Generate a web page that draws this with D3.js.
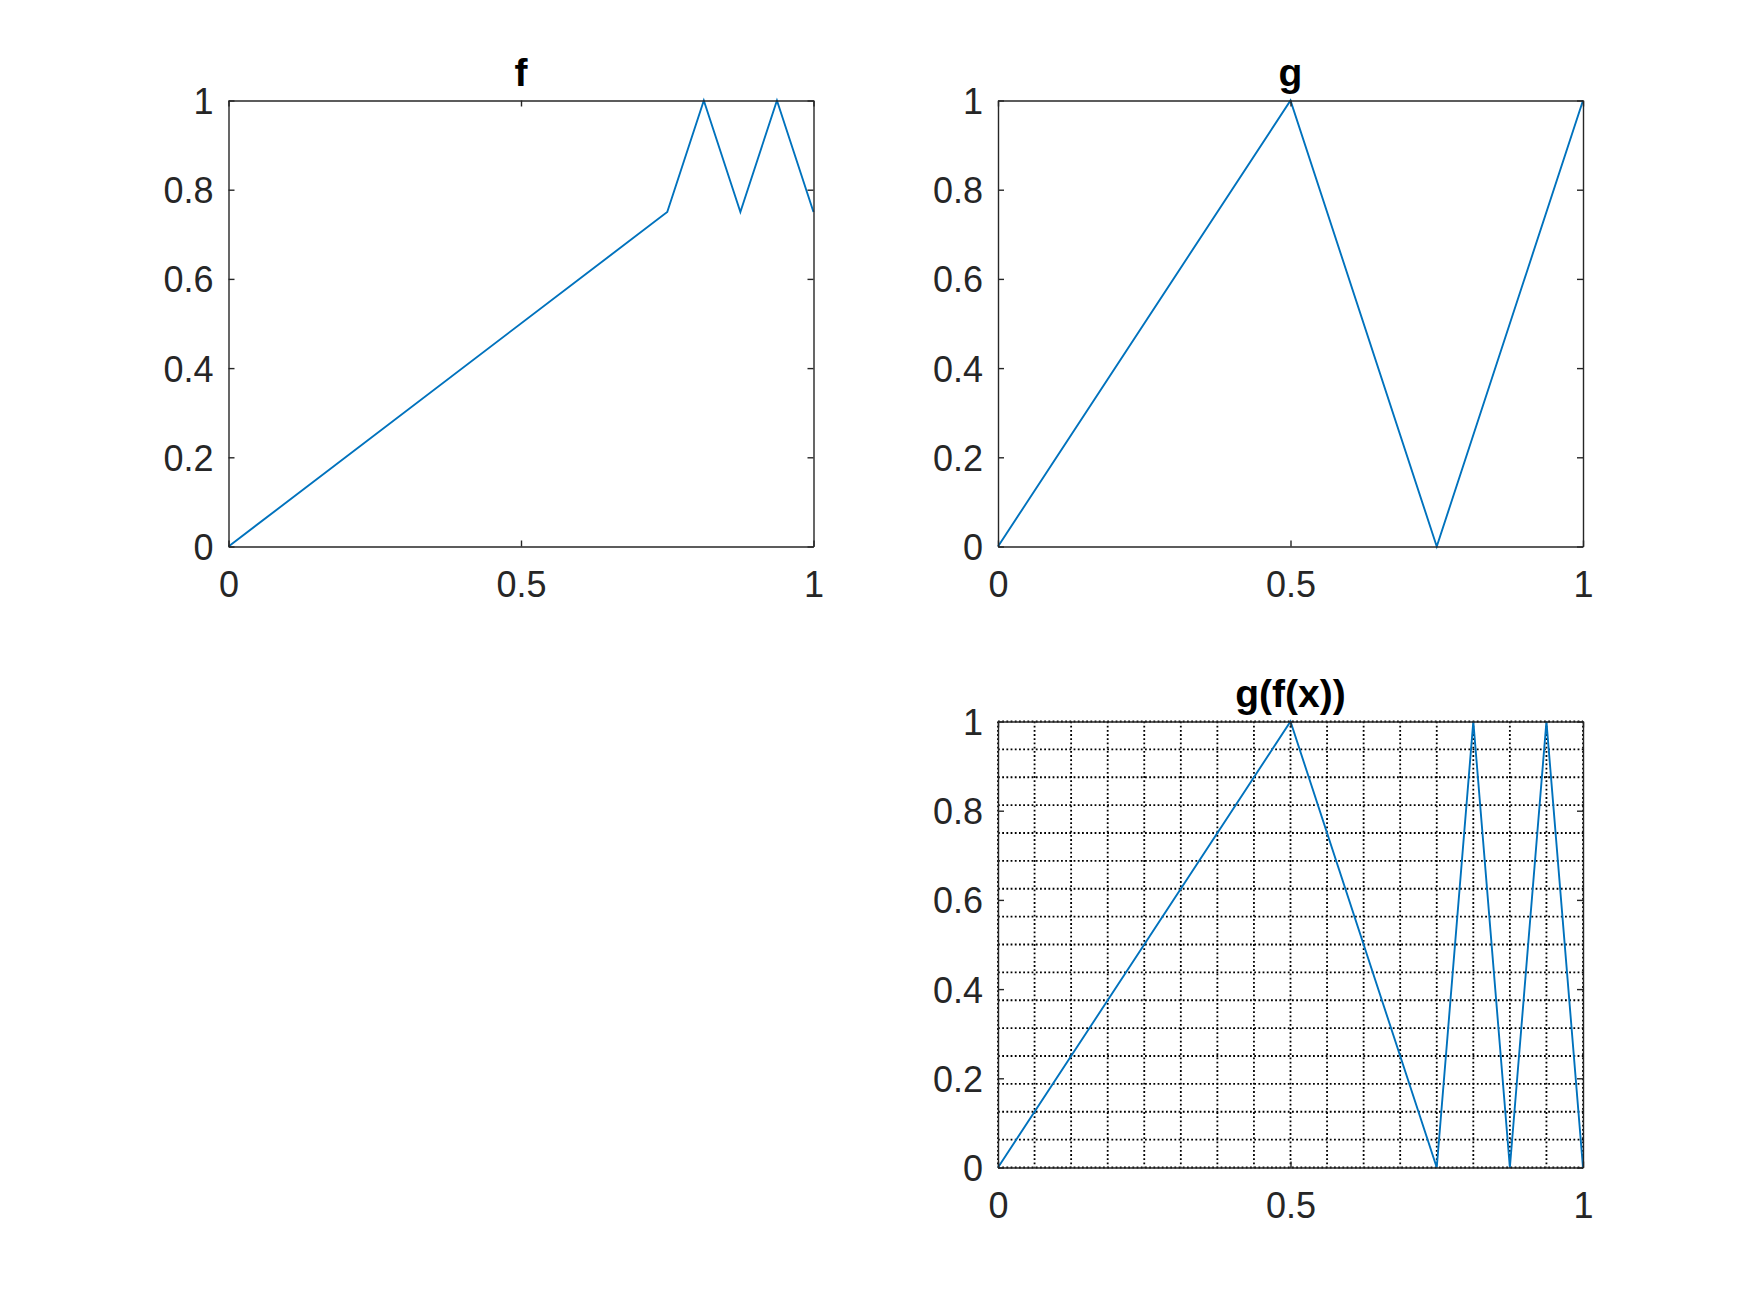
<!DOCTYPE html>
<html>
<head>
<meta charset="utf-8">
<script src="https://cdn.jsdelivr.net/npm/d3@7"></script>
<style>
  body { margin: 0; background: #fff; }
  svg { display: block; }
</style>
</head>
<body>
<div id="chart"></div>
<script>
// data
const fX = [0, 0.75, 0.8125, 0.875, 0.9375, 1];
const fY = [0, 0.75, 1, 0.75, 1, 0.75];
const gX = [0, 0.5, 0.75, 1];
const gY = [0, 1, 0, 1];
const gfX = [0, 0.5, 0.75, 0.8125, 0.875, 0.9375, 1];
const gfY = [0, 1, 0, 1, 0, 1, 0];
const xTicks = [0, 0.5, 1];
const yTicks = [0, 0.2, 0.4, 0.6, 0.8, 1];
const gridSteps = d3.range(0, 17).map(k => k / 16);

const W = 1750, H = 1313;
const axCol = "#262626", lineCol = "#0072BD";
const font = 'Helvetica, Arial, "Liberation Sans", sans-serif';

const svg = d3.select("#chart").append("svg")
  .attr("width", W).attr("height", H);

const panels = [
  {title: "f", xs: fX, ys: fY, left: 228.5, top: 100.5, grid: false},
  {title: "g", xs: gX, ys: gY, left: 998, top: 100.5, grid: false},
  {title: "g(f(x))", xs: gfX, ys: gfY, left: 998, top: 721.5, grid: true}
];
const pw = 585, ph = 446;

panels.forEach(p => {
  let g = svg.append("g").attr("transform", `translate(${p.left},${p.top})`);
  let x = d3.scaleLinear().domain([0, 1]).range([0, pw]);
  let y = d3.scaleLinear().domain([0, 1]).range([ph, 0]);

  if (p.grid) {
    let grid = g.append("g").attr("class", "grid");
    grid.selectAll(".gx").data(gridSteps).enter().append("line")
      .attr("x1", d => x(d)).attr("x2", d => x(d))
      .attr("y1", 0).attr("y2", ph);
    grid.selectAll(".gy").data(gridSteps).enter().append("line")
      .attr("y1", d => y(d)).attr("y2", d => y(d))
      .attr("x1", 0).attr("x2", pw);
    grid.selectAll("line")
      .style("stroke", "#000")
      .style("stroke-width", 1.8)
      .style("stroke-dasharray", "1.8,2.4");
  }

  let line = d3.line().x(d => x(d[0])).y(d => y(d[1]));
  g.append("path")
    .datum(p.xs.map((v, i) => [v, p.ys[i]]))
    .attr("d", line)
    .style("fill", "none")
    .style("stroke", lineCol)
    .style("stroke-width", 1.9)
    .style("stroke-linejoin", "miter");

  // axes with inward ticks, box on
  let bottom = g.append("g").attr("transform", `translate(0,${ph})`)
    .call(d3.axisBottom(x).tickValues(xTicks).tickFormat(d3.format("")).tickSizeInner(-6).tickSizeOuter(0));
  let leftA = g.append("g")
    .call(d3.axisLeft(y).tickValues(yTicks).tickFormat(d3.format("")).tickSizeInner(-6).tickSizeOuter(0));
  let topA = g.append("g")
    .call(d3.axisTop(x).tickValues(xTicks).tickFormat("").tickSizeInner(-6).tickSizeOuter(0));
  let rightA = g.append("g").attr("transform", `translate(${pw},0)`)
    .call(d3.axisRight(y).tickValues(yTicks).tickFormat("").tickSizeInner(-6).tickSizeOuter(0));

  [bottom, leftA, topA, rightA].forEach(a => {
    a.attr("font-family", font).attr("font-size", 36);
    a.selectAll(".domain").style("stroke", axCol).style("stroke-width", 1.4);
    a.selectAll(".tick line").style("stroke", axCol).style("stroke-width", 1.4);
    a.selectAll(".tick text").style("fill", axCol);
  });
  bottom.selectAll(".tick text").attr("y", 50).attr("dy", 0);
  leftA.selectAll(".tick text").attr("x", -15).attr("dy", "0.36em");

  g.append("text")
    .attr("x", pw / 2).attr("y", -15)
    .attr("text-anchor", "middle")
    .style("font-family", font)
    .style("font-size", "39px")
    .style("font-weight", "bold")
    .style("fill", "#000")
    .text(p.title);
});
</script>
</body>
</html>
